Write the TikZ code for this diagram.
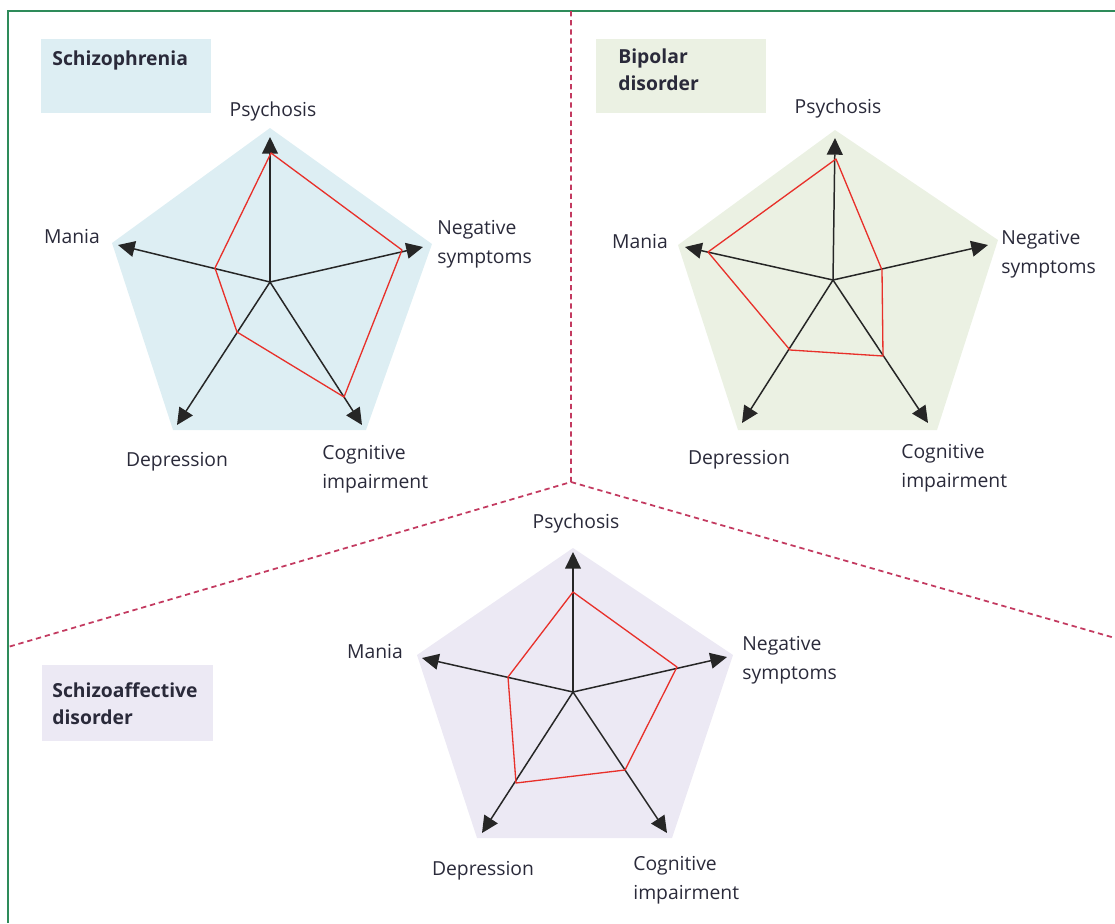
\documentclass[tikz,border=0pt]{standalone}
\usepackage{fontspec}
\setmainfont{Open Sans}
\usetikzlibrary{arrows.meta}
\definecolor{schfill}{HTML}{DDEEF3}
\definecolor{bipfill}{HTML}{EBF1E3}
\definecolor{safill}{HTML}{ECE9F4}
\definecolor{profred}{HTML}{E8302A}
\definecolor{divred}{HTML}{C33A60}
\definecolor{framegreen}{HTML}{2E8B5A}
\definecolor{labeltext}{HTML}{2A2A3A}
\tikzset{
    axis/.style={draw=black!85,line width=0.85pt,-{Triangle[length=9.5pt,width=9pt]}},
    profile/.style={draw=profred,line width=0.75pt,line join=round},
    lbl/.style={inner sep=0pt,text=labeltext,font=\fontsize{11}{16.5}\selectfont,align=left},
    ttl/.style={lbl,font=\bfseries\fontsize{11}{15.5}\selectfont},
    divider/.style={draw=divred,line width=1pt,dash pattern=on 3pt off 2.2pt},
    frame/.style={draw=framegreen,line width=1.2pt}
}
\begin{document}
\begin{tikzpicture}[x=0.02cm,y=-0.02cm]
    \useasboundingbox (0,0) rectangle (1115,923);
    \draw[frame] (8,923)--(8,11)--(1115,11);
    \coordinate (mid) at (571,482);
    \draw[divider] (571,11)--(mid)--(8,647);
    \draw[divider] (mid)--(1115,638);

    \fill[schfill] (41,39) rectangle (211,113);
    \node[ttl,anchor=west] (s-title) at (52,60) {Schizophrenia};
    \fill[schfill] (270,128)--(432,244)--(366,430)--(173,430)--(112,243)--cycle;
    \coordinate (s-c) at (270,282);
    \coordinate (s-psy) at (270,137);
    \coordinate (s-neg) at (423,247);
    \coordinate (s-cog) at (362,425);
    \coordinate (s-dep) at (177,425);
    \coordinate (s-man) at (118,245);
    \draw[axis] (s-c)--(s-psy);
    \draw[axis] (s-c)--(s-neg);
    \draw[axis] (s-c)--(s-cog);
    \draw[axis] (s-c)--(s-dep);
    \draw[axis] (s-c)--(s-man);
    \draw[profile] (271,153)--(402,250)--(344,397)--(237,332)--(215,268)--cycle;
    \node[lbl] (s-psy-l) at (273,111) {Psychosis};
    \node[lbl,anchor=west] (s-neg-l) at (437,244) {Negative\\symptoms};
    \node[lbl,anchor=west] (s-cog-l) at (322,469) {Cognitive\\impairment};
    \node[lbl] (s-dep-l) at (177,462) {Depression};
    \node[lbl] (s-man-l) at (72,236) {Mania};

    \fill[bipfill] (596,39) rectangle (766,113);
    \node[ttl,anchor=west] (b-title) at (618,70) {Bipolar\\disorder};
    \fill[bipfill] (835,130)--(998,240)--(937,430)--(738,430)--(678,245)--cycle;
    \coordinate (b-c) at (833,280);
    \coordinate (b-psy) at (835,138);
    \coordinate (b-neg) at (988,245);
    \coordinate (b-cog) at (928,423);
    \coordinate (b-dep) at (742,423);
    \coordinate (b-man) at (685,247);
    \draw[axis] (b-c)--(b-psy);
    \draw[axis] (b-c)--(b-neg);
    \draw[axis] (b-c)--(b-cog);
    \draw[axis] (b-c)--(b-dep);
    \draw[axis] (b-c)--(b-man);
    \draw[profile] (836,159)--(882,270)--(883,356)--(790,350)--(708,252)--cycle;
    \node[lbl] (b-psy-l) at (838,108) {Psychosis};
    \node[lbl,anchor=west] (b-neg-l) at (1001,254) {Negative\\symptoms};
    \node[lbl,anchor=west] (b-cog-l) at (901,468) {Cognitive\\impairment};
    \node[lbl] (b-dep-l) at (739,460) {Depression};
    \node[lbl] (b-man-l) at (640,241) {Mania};

    \fill[safill] (42,665) rectangle (213,741);
    \node[ttl,anchor=west] (a-title) at (52,704) {Schizoaffective\\disorder};
    \fill[safill] (573,548)--(733,655)--(672,838)--(477,838)--(417,655)--cycle;
    \coordinate (a-c) at (573,692);
    \coordinate (a-psy) at (573,552);
    \coordinate (a-neg) at (727,657);
    \coordinate (a-cog) at (667,833);
    \coordinate (a-dep) at (482,833);
    \coordinate (a-man) at (422,658);
    \draw[axis] (a-c)--(a-psy);
    \draw[axis] (a-c)--(a-neg);
    \draw[axis] (a-c)--(a-cog);
    \draw[axis] (a-c)--(a-dep);
    \draw[axis] (a-c)--(a-man);
    \draw[profile] (573,592)--(677,667)--(625,770)--(516,783)--(508,677)--cycle;
    \node[lbl] (a-psy-l) at (576,523) {Psychosis};
    \node[lbl,anchor=west] (a-neg-l) at (742,660) {Negative\\symptoms};
    \node[lbl,anchor=west] (a-cog-l) at (633,880) {Cognitive\\impairment};
    \node[lbl] (a-dep-l) at (483,871) {Depression};
    \node[lbl] (a-man-l) at (375,651) {Mania};
\end{tikzpicture}
\end{document}
